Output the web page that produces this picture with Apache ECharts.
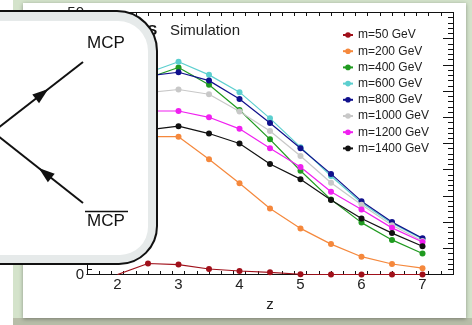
<!DOCTYPE html>
<html>
<head>
  <meta charset="utf-8">
  <title>MCP simulation</title>
</head>
<body style="margin: 0; background: #fff">
  <div id="container" style="width: 472px; height: 325px;"></div>
  <script src="https://cdn.jsdelivr.net/npm/echarts@6.0.0/dist/echarts.min.js"></script>
  <script>
    // z values; m=50 starts at z=2, the others at z=2.5 (z=2 is under the diagram box)
    var zAll = [2, 2.5, 3, 3.5, 4, 4.5, 5, 5.5, 6, 6.5, 7];
    var zFrom25 = [2.5, 3, 3.5, 4, 4.5, 5, 5.5, 6, 6.5, 7];

    var seriesNames = ['m=50 GeV', 'm=200 GeV', 'm=400 GeV', 'm=600 GeV',
                       'm=800 GeV', 'm=1000 GeV', 'm=1200 GeV', 'm=1400 GeV'];
    var seriesColors = ['#a0101a', '#f5883c', '#1f9a1f', '#5ccfcf',
                        '#10108c', '#c8c8c8', '#f020f0', '#111111'];

    var m50   = [0, 2.1, 1.9, 1.05, 0.67, 0.42, 0.05, 0, 0, 0, 0];
    var m200  = [26.3, 26.3, 22.0, 17.4, 12.6, 8.8, 5.8, 3.4, 2.0, 1.2];
    var m400  = [37.5, 39.5, 36.2, 31.4, 25.8, 19.8, 14.3, 9.9, 6.6, 4.0];
    var m600  = [38.5, 40.6, 38.1, 34.8, 29.8, 24.3, 18.8, 13.7, 9.8, 6.8];
    var m800  = [37.9, 38.6, 37.0, 33.5, 28.9, 24.1, 19.2, 14.0, 10.0, 6.9];
    var m1000 = [34.7, 35.3, 34.4, 31.1, 27.4, 22.6, 17.5, 13.3, 9.4, 6.4];
    var m1200 = [31.2, 31.2, 30.0, 27.8, 24.1, 20.5, 15.8, 12.4, 8.9, 6.2];
    var m1400 = [27.6, 28.3, 26.9, 25.0, 21.1, 18.2, 14.2, 10.7, 7.9, 5.4];

    var xLabels = [2, 3, 4, 5, 6, 7];
    var yLabels = [0, 10, 20, 30, 40, 50];

    var allValues = [m50, m200, m400, m600, m800, m1000, m1200, m1400];

    // tick positions for the framed axes
    var xMajor = [], xMinor = [];
    for (var t = 15; t <= 75; t += 2) {
      var v = t / 10;
      if (t % 10 === 0) xMajor.push(v); else xMinor.push(v);
    }

    function pairs(xs, ys) {
      return ys.map(function (y, i) { return [xs[i], y]; });
    }

    var series = allValues.map(function (vals, k) {
      var data = k === 0 ? pairs(zAll, vals) : pairs(zFrom25, vals);
      if (k === 0) data[0] = { value: data[0], symbol: 'none' };
      return {
        name: seriesNames[k],
        type: 'line',
        xAxisIndex: 0,
        yAxisIndex: 0,
        data: data,
        symbol: 'circle',
        symbolSize: 6,
        showSymbol: true,
        lineStyle: { width: 1.2, color: seriesColors[k] },
        itemStyle: { color: seriesColors[k] },
        z: 2 + k,
        animation: false
      };
    });

    function xAx(pos, ticks, len, showLabel) {
      return {
        type: 'value', position: pos, min: 1.5, max: 7.5,
        axisLine: { show: true, onZero: false, lineStyle: { color: '#111', width: 1 } },
        axisTick: { show: true, inside: true, length: len, customValues: ticks, lineStyle: { color: '#111' } },
        axisLabel: showLabel ? { show: true, customValues: xLabels, margin: 3, color: '#222',
                                 fontSize: 15, fontFamily: 'Liberation Sans' } : { show: false },
        splitLine: { show: false }
      };
    }

    function yAx(pos, showLabel) {
      return {
        type: 'value', position: pos, min: 0, max: 50, interval: 5,
        axisLine: { show: true, onZero: false, lineStyle: { color: '#111', width: 1 } },
        axisTick: { show: true, inside: true, length: 10, lineStyle: { color: '#111' } },
        minorTick: { show: true, splitNumber: 5, length: 5, lineStyle: { color: '#111' } },
        axisLabel: showLabel ? { show: true, customValues: yLabels, margin: 3, color: '#222',
                                 fontSize: 15, fontFamily: 'Liberation Sans' } : { show: false },
        splitLine: { show: false }
      };
    }

    var xMain = xAx('bottom', xMajor, 7, true);
    xMain.name = 'z';
    xMain.nameLocation = 'middle';
    xMain.nameGap = 22;
    xMain.nameTextStyle = { fontSize: 15, color: '#222', fontFamily: 'Liberation Sans' };

    // arrow head on a line, tip along (dx, dy)
    function arrow(cx, cy, dx, dy) {
      var n = Math.sqrt(dx * dx + dy * dy);
      dx /= n; dy /= n;
      var px = -dy, py = dx;
      return [[cx + 8 * dx, cy + 8 * dy],
              [cx - 8 * dx + 5.5 * px, cy - 8 * dy + 5.5 * py],
              [cx - 8 * dx - 5.5 * px, cy - 8 * dy - 5.5 * py]];
    }

    var dom = document.getElementById('container');
    var myChart = echarts.init(dom, null, { renderer: 'canvas' });

    var option = {
      animation: false,
      backgroundColor: '#ffffff',
      grid: { left: 87, right: 19, top: 12.5, bottom: 50.5 },
      xAxis: [xMain, xAx('bottom', xMinor, 3.5, false), xAx('top', xMajor, 7, false), xAx('top', xMinor, 3.5, false)],
      yAxis: [yAx('left', true), yAx('right', false)],
      legend: {
        show: true,
        orient: 'vertical',
        left: 337,
        top: 24,
        z: 20,
        itemWidth: 10,
        itemHeight: 7,
        itemGap: 4.2,
        data: seriesNames,
        textStyle: { fontSize: 12, color: '#222', fontFamily: 'Liberation Sans' }
      },
      series: series,
      graphic: [
        // outer frame
        { type: 'rect', z: -20, silent: true, shape: { x: 13, y: 0, width: 459, height: 325 }, style: { fill: '#d4e3cb' } },
        { type: 'rect', z: -19, silent: true, shape: { x: 13, y: 318, width: 459, height: 7 }, style: { fill: '#b7bda8' } },
        { type: 'rect', z: -18, silent: true, shape: { x: 23, y: 3, width: 443, height: 315 },
          style: { fill: '#ffffff', shadowBlur: 4, shadowColor: 'rgba(0,0,0,0.35)', shadowOffsetY: 1 } },
        // title
        { type: 'text', z: 50, left: 124, top: 23, style: { text: 'CMS', fontSize: 15, fontWeight: 'bold', fill: '#111', fontFamily: 'Liberation Sans' } },
        { type: 'text', z: 50, left: 170, top: 23, style: { text: 'Simulation', fontSize: 15, fill: '#222', fontFamily: 'Liberation Sans' } },
        // diagram box
        { type: 'rect', z: 100, silent: true, shape: { x: -20, y: 11, width: 177, height: 253, r: [0, 40, 38, 0] },
          style: { fill: '#e6eaea', stroke: '#111', lineWidth: 2 } },
        { type: 'rect', z: 101, silent: true, shape: { x: -20, y: 21, width: 168, height: 234, r: [0, 30, 28, 0] },
          style: { fill: '#ffffff' } },
        { type: 'line', z: 102, silent: true, shape: { x1: -7, y1: 132, x2: 83, y2: 62 }, style: { stroke: '#111', lineWidth: 2 } },
        { type: 'line', z: 102, silent: true, shape: { x1: -7, y1: 132, x2: 83, y2: 203 }, style: { stroke: '#111', lineWidth: 2 } },
        { type: 'polygon', z: 103, silent: true, shape: { points: arrow(42, 94, 90, -70) }, style: { fill: '#111' } },
        { type: 'polygon', z: 103, silent: true, shape: { points: arrow(45, 173, -90, -71) }, style: { fill: '#111' } },
        { type: 'text', z: 103, silent: true, style: { x: 106, y: 43, text: 'MCP', fontSize: 17, fill: '#111',
          align: 'center', verticalAlign: 'middle', fontFamily: 'Liberation Sans' } },
        { type: 'text', z: 103, silent: true, style: { x: 106, y: 221, text: 'MCP', fontSize: 17, fill: '#111',
          align: 'center', verticalAlign: 'middle', fontFamily: 'Liberation Sans' } },
        { type: 'line', z: 103, silent: true, shape: { x1: 85, y1: 211.5, x2: 128, y2: 211.5 }, style: { stroke: '#111', lineWidth: 1.3 } }
      ]
    };

    myChart.setOption(option);
  </script>
</body>
</html>
